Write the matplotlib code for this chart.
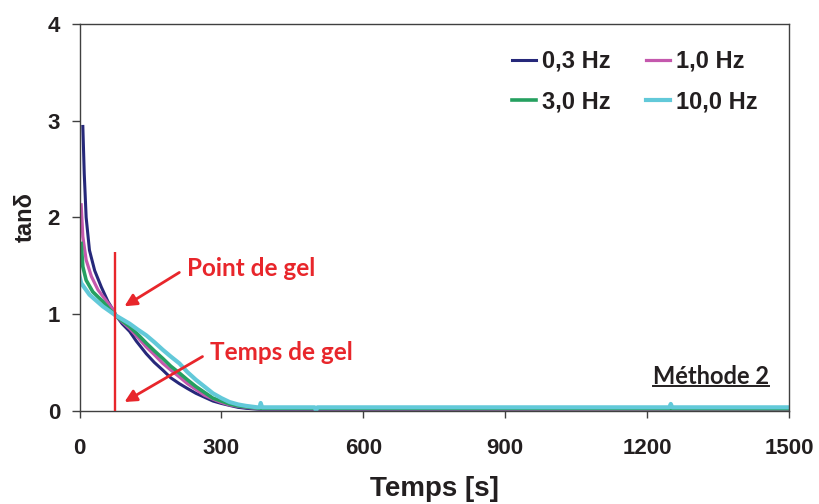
import matplotlib
matplotlib.use('Agg')
import matplotlib.pyplot as plt

# tan(delta) vs time, four frequencies
t_03 = [7, 10, 14, 21, 32, 46, 60, 70, 78, 90, 106, 120, 141, 158, 176, 193, 211,
        228, 246, 264, 282, 300, 317, 335, 352, 380, 1500]
tan_03 = [2.94, 2.45, 2.0, 1.66, 1.45, 1.28, 1.13, 1.05, 0.98, 0.90, 0.82, 0.72, 0.59,
          0.50, 0.42, 0.34, 0.28, 0.23, 0.18, 0.14, 0.10, 0.075, 0.055, 0.035, 0.025,
          0.015, 0.01]

t_10 = [3.5, 7, 14, 25, 39, 56, 70, 78, 90, 106, 123, 141, 158, 176, 193, 211, 228,
        246, 264, 282, 300, 317, 335, 352, 380, 1500]
tan_10 = [2.13, 1.80, 1.56, 1.39, 1.25, 1.14, 1.05, 0.98, 0.92, 0.85, 0.76, 0.66, 0.58,
          0.49, 0.42, 0.35, 0.28, 0.22, 0.16, 0.12, 0.085, 0.06, 0.045, 0.035, 0.02, 0.01]

t_30 = [3.5, 7, 14, 28, 49, 65, 78, 90, 106, 123, 141, 158, 176, 193, 211, 228, 246,
        264, 282, 300, 317, 335, 352, 380, 1500]
tan_30 = [1.73, 1.49, 1.35, 1.23, 1.13, 1.04, 0.98, 0.93, 0.87, 0.79, 0.70, 0.62, 0.54,
          0.46, 0.39, 0.32, 0.25, 0.19, 0.13, 0.10, 0.07, 0.05, 0.04, 0.025, 0.02]

t_100 = [0, 3.5, 21, 49, 75, 106, 123, 141, 158, 176, 193, 211, 228, 246, 264, 282, 300,
         317, 335, 352, 376, 381, 383, 386, 497, 500, 503, 1247, 1250, 1253, 1500]
tan_100 = [1.39, 1.32, 1.20, 1.08, 0.99, 0.90, 0.84, 0.78, 0.71, 0.63, 0.56, 0.49, 0.40,
           0.32, 0.25, 0.18, 0.13, 0.09, 0.065, 0.05, 0.035, 0.035, 0.08, 0.035, 0.035,
           0.0, 0.035, 0.035, 0.07, 0.035, 0.035]

gel_time = 75
gel_top = 1.64

colors = {'0,3 Hz': '#26287a', '1,0 Hz': '#c458ad', '3,0 Hz': '#25a060', '10,0 Hz': '#62c9d9'}
red = '#e8262b'

fig = plt.figure(figsize=(8.19, 5.04), dpi=100)
ax = fig.add_axes([0.0971, 0.1851, 0.8663, 0.7673])

l03, = ax.plot(t_03, tan_03, color=colors['0,3 Hz'], lw=2.2, label='0,3 Hz')
l10, = ax.plot(t_10, tan_10, color=colors['1,0 Hz'], lw=2.3, label='1,0 Hz')
l30, = ax.plot(t_30, tan_30, color=colors['3,0 Hz'], lw=2.6, label='3,0 Hz')
l100, = ax.plot(t_100, tan_100, color=colors['10,0 Hz'], lw=3.0, label='10,0 Hz')

# gel point marker line
ax.vlines(gel_time, 0, gel_top, color=red, lw=1.7, zorder=5)

ax.set_xlim(0, 1500)
ax.set_ylim(0, 4)
ax.set_xticks(range(0, 1501, 300))
ax.set_yticks(range(0, 5))

tick_font = dict(family='Liberation Sans', weight='bold', size=16)
ax.set_xticklabels([str(v) for v in range(0, 1501, 300)], **tick_font)
ax.set_yticklabels([str(v) for v in range(0, 5)], **tick_font)
ax.tick_params(axis='x', direction='out', length=5, width=1, color='#404040', pad=15, labelcolor='#231f20')
ax.tick_params(axis='y', direction='out', length=6, width=1, color='#404040', pad=8, labelcolor='#231f20')
for s in ax.spines.values():
    s.set_color('#404040')
    s.set_linewidth(1.0)

ax.set_xlabel('Temps [s]', family='Liberation Sans', weight='bold', size=20, labelpad=12, color='#231f20')
ax.set_ylabel('tanδ', family='Liberation Sans', weight='bold', size=17, labelpad=8, color='#231f20')

# legend: row 1 = 0,3 / 1,0 ; row 2 = 3,0 / 10,0
leg = ax.legend([l03, l30, l10, l100], ['0,3 Hz', '3,0 Hz', '1,0 Hz', '10,0 Hz'],
                ncol=2, loc='upper right', bbox_to_anchor=(0.985, 0.988), frameon=False,
                prop=dict(family='Liberation Sans', weight='bold', size=17),
                handlelength=1.0, handletextpad=0.25, columnspacing=1.5, labelspacing=0.75)
for txt in leg.get_texts():
    txt.set_color('#231f20')

# annotations
note_font = dict(family='Lato', weight='bold', size=17.5, color=red)
ax.text(228, 1.47, 'Point de gel', va='center', ha='left', **note_font)
ax.text(275, 0.60, 'Temps de gel', va='center', ha='left', **note_font)
arrow = dict(arrowstyle='-|>', color=red, lw=2.0, mutation_scale=18, shrinkA=0, shrinkB=0)
ax.annotate('', xy=(95, 1.08), xytext=(211, 1.43), arrowprops=arrow)
ax.annotate('', xy=(95, 0.09), xytext=(260, 0.56), arrowprops=arrow)

meth = ax.text(1458, 0.35, 'Méthode 2', ha='right', va='center',
               family='Lato', weight='bold', size=17, color='#231f20')

# underline the method label
fig.canvas.draw()
bb = meth.get_window_extent().transformed(ax.transAxes.inverted())
ax.plot([bb.x0, bb.x1], [bb.y0 + 0.006, bb.y0 + 0.006], transform=ax.transAxes,
        color='#231f20', lw=1.4, clip_on=False)

fig.savefig('out.png', dpi=100)
